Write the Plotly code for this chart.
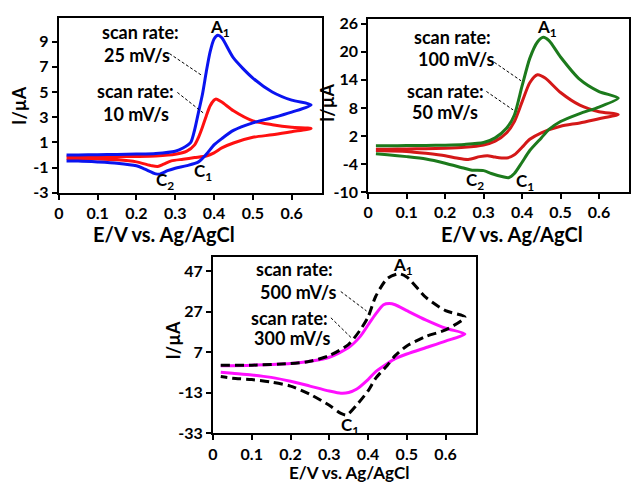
import plotly.graph_objects as go

W, H = 631, 488

# ---------------- data ----------------
# Top-left panel: 25 mV/s (blue) and 10 mV/s (red)
tl_blue_E = [0.02, 0.05, 0.10, 0.15, 0.20, 0.25, 0.30, 0.32, 0.34, 0.35, 0.36, 0.37, 0.38, 0.39, 0.40, 0.41, 0.42, 0.45, 0.50, 0.55, 0.60, 0.65,
             0.60, 0.55, 0.50, 0.45, 0.42, 0.40, 0.38, 0.36, 0.33, 0.30, 0.28, 0.26, 0.25, 0.22, 0.20, 0.15, 0.10, 0.05, 0.02]
tl_blue_I = [0.00, 0.00, 0.02, 0.04, 0.07, 0.12, 0.30, 0.55, 1.00, 2.00, 3.40, 4.80, 6.60, 8.20, 9.20, 9.50, 9.30, 7.70, 6.10, 5.00, 4.35, 3.97,
             3.40, 2.95, 2.55, 1.95, 1.30, 0.80, 0.05, -0.55, -0.85, -1.05, -1.25, -1.52, -1.50, -1.10, -0.86, -0.65, -0.55, -0.48, -0.47]
tl_red_E = [0.02, 0.05, 0.10, 0.15, 0.20, 0.25, 0.30, 0.33, 0.35, 0.36, 0.37, 0.38, 0.39, 0.40, 0.405, 0.42, 0.45, 0.50, 0.55, 0.60, 0.65,
            0.60, 0.55, 0.50, 0.45, 0.42, 0.40, 0.38, 0.35, 0.32, 0.29, 0.27, 0.255, 0.24, 0.20, 0.15, 0.10, 0.02]
tl_red_I = [-0.16, -0.16, -0.15, -0.14, -0.12, -0.08, 0.05, 0.30, 0.80, 1.40, 2.20, 3.10, 3.90, 4.35, 4.45, 4.20, 3.50, 2.70, 2.40, 2.20, 2.10,
            1.85, 1.60, 1.40, 0.95, 0.56, 0.17, -0.08, -0.21, -0.34, -0.47, -0.73, -0.91, -0.86, -0.55, -0.39, -0.32, -0.29]

# Top-right panel: 100 mV/s (green) and 50 mV/s (red)
tr_green_E = [0.02, 0.05, 0.10, 0.15, 0.20, 0.25, 0.30, 0.33, 0.36, 0.38, 0.40, 0.42, 0.44, 0.455, 0.47, 0.50, 0.55, 0.60, 0.65,
              0.60, 0.55, 0.50, 0.47, 0.45, 0.42, 0.40, 0.38, 0.365, 0.35, 0.32, 0.30, 0.27, 0.25, 0.20, 0.15, 0.10, 0.05, 0.02]
tr_green_I = [-0.1, -0.1, -0.05, 0.0, 0.05, 0.2, 0.6, 1.6, 3.7, 6.5, 12.7, 18.6, 22.1, 23.1, 22.4, 18.9, 14.1, 11.5, 10.1,
              8.2, 6.8, 5.1, 3.4, 1.6, -1.1, -3.6, -6.0, -6.9, -6.7, -6.0, -5.4, -5.3, -4.9, -3.8, -2.9, -2.4, -2.0, -1.8]
tr_red_E = [0.02, 0.05, 0.10, 0.15, 0.20, 0.25, 0.30, 0.33, 0.36, 0.38, 0.40, 0.42, 0.44, 0.46, 0.50, 0.55, 0.60, 0.65,
            0.60, 0.55, 0.50, 0.45, 0.42, 0.40, 0.38, 0.36, 0.33, 0.31, 0.29, 0.26, 0.23, 0.20, 0.15, 0.10, 0.02]
tr_red_I = [-0.8, -0.8, -0.75, -0.7, -0.6, -0.4, 0.1, 0.9, 2.7, 5.1, 9.3, 13.4, 15.1, 14.4, 11.3, 8.6, 7.2, 6.6,
            5.7, 4.8, 4.1, 2.7, 1.3, -0.4, -2.0, -2.7, -2.5, -2.2, -2.4, -3.0, -2.7, -2.2, -1.7, -1.3, -1.1]

# Bottom panel: 500 mV/s (black dashed) and 300 mV/s (magenta)
b_black_E = [0.02, 0.10, 0.20, 0.25, 0.30, 0.35, 0.38, 0.40, 0.42, 0.45, 0.48, 0.50, 0.55, 0.60, 0.65,
             0.60, 0.55, 0.50, 0.47, 0.45, 0.42, 0.40, 0.37, 0.345, 0.33, 0.30, 0.25, 0.20, 0.15, 0.10, 0.05, 0.02]
b_black_I = [0.6, 0.6, 1.4, 2.5, 5.3, 10.9, 18.0, 24.3, 34.6, 43.4, 45.7, 44.1, 33.9, 27.5, 24.3,
             18.0, 14.8, 10.1, 5.3, 0.6, -5.8, -12.1, -19.2, -24.0, -23.2, -19.2, -13.7, -9.7, -7.7, -6.5, -5.8, -5.0]
b_mag_E = [0.02, 0.10, 0.20, 0.25, 0.30, 0.35, 0.38, 0.40, 0.42, 0.44, 0.455, 0.47, 0.50, 0.55, 0.60, 0.65,
           0.60, 0.55, 0.50, 0.47, 0.45, 0.42, 0.40, 0.37, 0.35, 0.33, 0.30, 0.25, 0.20, 0.15, 0.10, 0.05, 0.02]
b_mag_I = [0.3, 0.6, 1.4, 2.5, 4.5, 9.3, 14.8, 20.4, 25.9, 30.4, 31.0, 30.4, 27.5, 22.8, 18.8, 16.0,
           12.5, 9.3, 6.1, 3.8, 1.4, -2.6, -6.5, -11.3, -12.9, -13.2, -12.1, -9.7, -7.3, -5.4, -4.2, -3.4, -2.9]

x_ticks = [0, 0.1, 0.2, 0.3, 0.4, 0.5, 0.6]
x_ticktext = ["0", "0.1", "0.2", "0.3", "0.4", "0.5", "0.6"]
tl_yticks = [-3, -1, 1, 3, 5, 7, 9]
tr_yticks = [-10, -4, 2, 8, 14, 20, 26]
b_yticks = [-33, -13, 7, 27, 47]

# ---------------- figure ----------------
FONT = "Lato"
fig = go.Figure()


def add_curve(E, I, color, xa, ya, dash="solid"):
    fig.add_trace(go.Scatter(x=E, y=I, mode="lines", xaxis=xa, yaxis=ya,
                             line=dict(color=color, width=3, dash=dash, shape="spline", smoothing=0.7),
                             showlegend=False, hoverinfo="skip"))


add_curve(tl_red_E, tl_red_I, "#FF1010", "x", "y")
add_curve(tl_blue_E, tl_blue_I, "#0A14F0", "x", "y")
add_curve(tr_red_E, tr_red_I, "#D41818", "x2", "y2")
add_curve(tr_green_E, tr_green_I, "#1C7A1C", "x2", "y2")
add_curve(b_mag_E, b_mag_I, "#FF10FF", "x3", "y3")
add_curve(b_black_E, b_black_I, "#000000", "x3", "y3", dash="9px,5px")


def pxx(x):
    return x / W


def pxy(y):
    return 1 - y / H


axis_common = dict(showline=True, linecolor="black", linewidth=2, mirror=True,
                   ticks="outside", ticklen=5, tickwidth=2, tickcolor="black",
                   showgrid=False, zeroline=False,
                   tickfont=dict(family=FONT, size=16, color="black", weight="bold"))

panels = [
    # (suffix, x0, x1, ytop, ybottom, yrange, yticks)
    ("", 54.3, 320, 13, 193.3, [-3, 10.9], tl_yticks),
    ("2", 366.7, 630, 14, 192.7, [-10, 27.1], tr_yticks),
    ("3", 210, 475.3, 259.3, 441, [-33, 54], b_yticks),
]
for suf, x0, x1, yt, yb, yr, yt_vals in panels:
    fig.update_layout(**{
        "xaxis" + suf: dict(axis_common, domain=[pxx(x0), pxx(x1)], range=[0, 0.678],
                            tickvals=x_ticks, ticktext=x_ticktext, anchor="y" + suf),
        "yaxis" + suf: dict(axis_common, domain=[pxy(yb), pxy(yt)], range=yr,
                            tickvals=yt_vals, ticktext=[str(v) for v in yt_vals], anchor="x" + suf),
    })

annotations = []


def txt(x, y, s, size=15, angle=0):
    annotations.append(dict(x=pxx(x), y=pxy(y), xref="paper", yref="paper", text=s,
                            showarrow=False, xanchor="center", yanchor="middle", textangle=angle,
                            font=dict(family=FONT, size=size, color="black", weight="bold")))


shapes = []


def leader(x0, y0, x1, y1):
    shapes.append(dict(type="line", xref="paper", yref="paper",
                       x0=pxx(x0), y0=pxy(y0), x1=pxx(x1), y1=pxy(y1),
                       line=dict(color="black", width=1, dash="3px,2px")))


# top-left
txt(137, 28, "scan rate:", 18)
txt(133, 51, "25 mV/s", 18)
txt(132, 89, "scan rate:", 18)
txt(132, 112, "10 mV/s", 18)
txt(217, 24, "A<sub>1</sub>", 17)
txt(162, 181, "C<sub>2</sub>", 17)
txt(200, 172, "C<sub>1</sub>", 17)
leader(166, 50, 198, 72)
leader(174, 90, 200, 111)
# top-right
txt(452, 33, "scan rate:", 18)
txt(455, 56, "100 mV/s", 18)
txt(445, 89, "scan rate:", 18)
txt(444, 110, "50 mV/s", 18)
txt(547, 24, "A<sub>1</sub>", 17)
txt(475, 181, "C<sub>2</sub>", 17)
txt(525, 182, "C<sub>1</sub>", 17)
leader(494, 59, 521, 78)
leader(486, 89, 513, 108)
# bottom
txt(292, 272, "scan rate:", 18)
txt(296, 295, "500 mV/s", 18)
txt(287, 322, "scan rate:", 18)
txt(290, 343, "300 mV/s", 18)
txt(402, 269, "A<sub>1</sub>", 17)
txt(348, 433, "C<sub>1</sub>", 17)
leader(339, 295, 365, 315)
leader(329, 322, 350, 343)
# axis titles
txt(14, 103, "I/µA", 18, -90)
txt(325, 100, "I/µA", 18, -90)
txt(170, 345, "I/µA", 18, -90)
txt(161, 236, "E/V vs. Ag/AgCl", 20)
txt(512, 236, "E/V vs. Ag/AgCl", 20)
txt(347, 481, "E/V vs. Ag/AgCl", 17)

fig.update_layout(width=W, height=H, margin=dict(l=0, r=0, t=0, b=0),
                  paper_bgcolor="white", plot_bgcolor="white",
                  annotations=annotations, shapes=shapes)

fig.write_html("out.html")
